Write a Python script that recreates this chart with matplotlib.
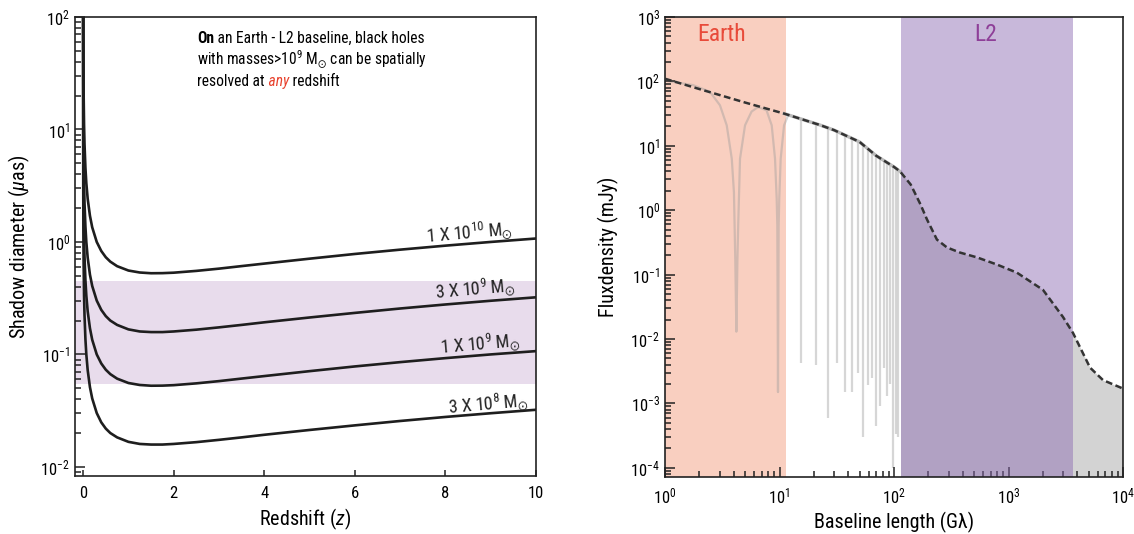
import matplotlib.pyplot as plt
from matplotlib import font_manager
from matplotlib.patches import Polygon

# condensed face if there is one, otherwise the narrowest sans we have
installed = {f.name for f in font_manager.fontManager.ttflist}
face = 'DejaVu Sans'
for cand in ['Liberation Sans Narrow', 'Roboto Condensed', 'Open Sans Condensed',
             'Noto Sans Condensed', 'Liberation Sans']:
    if cand in installed:
        face = cand
        break
plt.rcParams['font.family'] = [face, 'DejaVu Sans']
plt.rcParams['mathtext.fontset'] = 'custom'
plt.rcParams['mathtext.rm'] = face
plt.rcParams['mathtext.it'] = face + ':italic'
plt.rcParams['mathtext.bf'] = face + ':bold'
plt.rcParams['mathtext.fallback'] = 'stixsans'

# ---- left panel: shadow diameter (uas) vs redshift
redshift = [0.00002, 0.0001, 0.0005, 0.001, 0.002, 0.005, 0.01, 0.02, 0.03, 0.05,
            0.07, 0.1, 0.15, 0.2, 0.3, 0.4, 0.5, 0.6, 0.75, 1.0,
            1.25, 1.5, 1.75, 2.0, 2.5, 3.0, 3.5, 4.0, 5.0, 6.0,
            7.0, 8.0, 9.0, 10.0]
diam_1e10 = [10750, 2150, 430, 215, 108, 43.2, 21.8, 11.0, 7.43, 4.57,
             3.34, 2.42, 1.71, 1.35, 1.00, 0.831, 0.731, 0.668, 0.609, 0.557,
             0.535, 0.527, 0.528, 0.533, 0.553, 0.579, 0.610, 0.642, 0.710, 0.782,
             0.854, 0.927, 1.000, 1.073]
diam_3e9 = [3225, 645, 129, 64.6, 32.3, 13.0, 6.53, 3.30, 2.23, 1.37,
            1.00, 0.726, 0.512, 0.406, 0.301, 0.249, 0.219, 0.200, 0.183, 0.167,
            0.160, 0.158, 0.158, 0.160, 0.166, 0.174, 0.183, 0.193, 0.213, 0.234,
            0.256, 0.278, 0.300, 0.322]
diam_1e9 = [1075, 215, 43.0, 21.5, 10.8, 4.32, 2.18, 1.10, 0.743, 0.457,
            0.334, 0.242, 0.171, 0.135, 0.100, 0.0831, 0.0731, 0.0668, 0.0609, 0.0557,
            0.0535, 0.0527, 0.0528, 0.0533, 0.0553, 0.0579, 0.0610, 0.0642, 0.0710, 0.0782,
            0.0854, 0.0927, 0.100, 0.107]
diam_3e8 = [323, 64.5, 12.9, 6.46, 3.23, 1.30, 0.653, 0.330, 0.223, 0.137,
            0.100, 0.0726, 0.0512, 0.0406, 0.0301, 0.0249, 0.0219, 0.0200, 0.0183, 0.0167,
            0.0160, 0.0158, 0.0158, 0.0160, 0.0166, 0.0174, 0.0183, 0.0193, 0.0213, 0.0234,
            0.0256, 0.0278, 0.0300, 0.0322]
mass_labels = [r'1 X 10$^{10}$ M$_{\odot}$', r'3 X 10$^{9}$ M$_{\odot}$',
               r'1 X 10$^{9}$ M$_{\odot}$', r'3 X 10$^{8}$ M$_{\odot}$']
label_pos = [(9.50, 1.16), (9.56, 0.37), (9.67, 0.119), (9.85, 0.0348)]
band_lo, band_hi = 0.055, 0.45

# ---- right panel: flux density vs baseline length
env_x = [1.0, 2.0, 5.0, 11.0, 22.6, 30, 50, 70, 100, 113, 140, 170, 194, 237,
         290, 377, 531, 795, 1186, 2000, 2990, 3660, 5150, 6690, 10000]
env_y = [110, 76, 47, 31.6, 21, 17.5, 11.5, 7.0, 4.7, 4.0, 2.5, 1.24, 0.72, 0.35,
         0.264, 0.22, 0.185, 0.143, 0.107, 0.058, 0.022, 0.0124, 0.0036, 0.0023, 0.0017]
vis_x = [1.0, 1.1, 1.76, 2.47, 3.02, 3.46, 3.83, 4.0, 4.11, 4.2, 4.29, 4.36, 4.52,
         5.0, 5.7, 6.5, 7.7, 8.55, 9.14, 9.45, 9.57, 9.7, 9.83, 9.95, 10.24, 10.96, 11.9]
vis_y = [105, 100, 87.6, 69, 42.6, 20.8, 6.3, 1.9, 0.17, 0.013, 0.17, 0.6, 6.3,
         20.8, 34, 40, 35.6, 20.8, 6.3, 1.5, 0.57, 0.0015, 0.57, 1.5, 6.3, 20.8, 29.8]
null_x = [15.3, 20.8, 26.3, 31.8, 37.3, 42.8, 48.3, 53.7, 59.2, 64.8, 70.3, 75.8,
          81.3, 86.8, 92.3, 97.8, 103.3, 108.8]
null_depth = [0.0042, 0.004, 0.0006, 0.0042, 0.0015, 0.0015, 0.003, 0.0003, 0.0019,
              0.0025, 0.00044, 0.0009, 0.0035, 0.0013, 0.002, 0.0001, 0.00034, 0.0003]
earth_range = (1.0, 11.4)
l2_range = (115, 3660)
flux_lim = (7.2e-5, 1e3)

fig = plt.figure(figsize=(11.34, 5.34), dpi=100)
W, H = 1134, 534
ax1 = fig.add_axes([75 / W, 1 - 476 / H, 461 / W, 459 / H])
ax2 = fig.add_axes([665 / W, 1 - 477 / H, 458 / W, 460 / H])

# left
ax1.axhspan(band_lo, band_hi, color='#e8dcec', lw=0, zorder=0)
for d in (diam_1e10, diam_3e9, diam_1e9, diam_3e8):
    ax1.plot(redshift, d, color='#1e1e1e', lw=1.9, zorder=2)
for lab, (lx, ly) in zip(mass_labels, label_pos):
    ax1.text(lx, ly, lab, ha='right', va='baseline', rotation=5,
             rotation_mode='anchor', fontsize=13, color='#222222')
ax1.set_yscale('log')
ax1.set_xlim(-0.18, 10)
ax1.set_ylim(0.0083, 100)
ax1.set_xticks([0, 2, 4, 6, 8, 10])
ax1.set_xlabel('Redshift ($z$)', fontsize=14.5)
ax1.set_ylabel(r'Shadow diameter ($\mu$as)', fontsize=14.5, labelpad=6)

# right
lo = flux_lim[0]
ax2.axvspan(*earth_range, color='#f9cfc0', lw=0, zorder=0)
grey_fill = ax2.fill_between(env_x, lo, env_y, color='#d3d3d3', lw=0, zorder=1)
right_of_l2 = Polygon([(l2_range[0], lo), (1e4, lo), (1e4, 1e3), (l2_range[0], 1e3)],
                      transform=ax2.transData)
grey_fill.set_clip_path(right_of_l2)
ax2.plot(vis_x, vis_y, color='#999999', alpha=0.4, lw=1.6, zorder=1.5)
under_env = Polygon(list(zip(env_x, env_y)) + [(1e4, lo), (1.0, lo)],
                    transform=ax2.transData)
vl = ax2.vlines(null_x, null_depth, 1e3, colors='#999999', alpha=0.4, lw=1.6,
                zorder=1.5)
vl.set_clip_path(under_env)
# lobe tops of the dense fringes hug the envelope
ax2.plot(env_x[3:10], env_y[3:10], color='#bbbbbb', lw=2.4, zorder=1.6)
ax2.axvspan(*l2_range, color='#8c6bb2', alpha=0.48, lw=0, zorder=2)
ax2.plot(env_x, env_y, color='#333333', lw=1.8, ls=(0, (2.7, 1.4)), zorder=3)
ax2.text(0.124, 0.962, 'Earth', color='#e84b3a', fontsize=17, ha='center',
         va='center', transform=ax2.transAxes)
ax2.text(0.699, 0.962, 'L2', color='#8e3f98', fontsize=17, ha='center',
         va='center', transform=ax2.transAxes)
ax2.set_xscale('log')
ax2.set_yscale('log')
ax2.set_xlim(1, 1e4)
ax2.set_ylim(*flux_lim)
ax2.set_xlabel('Baseline length (G\u03bb)', fontsize=14.5)
ax2.set_ylabel('Fluxdensity (mJy)', fontsize=14.5, labelpad=8)

for ax in (ax1, ax2):
    ax.tick_params(which='both', direction='in', top=False, right=False,
                   labelsize=12, width=1.1, color='#222222')
    ax.tick_params(which='major', length=7)
    ax.tick_params(which='minor', length=4)
    ax.tick_params(axis='x', pad=7)
    for s in ax.spines.values():
        s.set_linewidth(1.2)
        s.set_color('#222222')
ax1.tick_params(axis='x', which='major', length=4)

# note in the left panel; pieces with other weight/colour are placed after a draw
fs = 11.2
x0 = 0.265
renderer = fig.canvas.get_renderer()


def place_after(prev, text, y, **kw):
    bb = prev.get_window_extent(renderer)
    x = ax1.transAxes.inverted().transform((bb.x1, bb.y0))[0]
    return ax1.text(x, y, text, transform=ax1.transAxes, va='baseline',
                    fontsize=fs, **kw)


t1 = ax1.text(x0, 0.943, 'On', fontweight='bold', fontsize=fs,
              transform=ax1.transAxes, va='baseline')
place_after(t1, ' an Earth - L2 baseline, black holes', 0.943)
ax1.text(x0, 0.897, r'with masses>10$^9$ M$_{\odot}$ can be spatially',
         fontsize=fs, transform=ax1.transAxes, va='baseline')
t3 = ax1.text(x0, 0.850, 'resolved at', fontsize=fs,
              transform=ax1.transAxes, va='baseline')
t4 = place_after(t3, ' any', 0.850, color='#e8412c', style='italic')
place_after(t4, ' redshift', 0.850)

fig.savefig('out.png', dpi=100)
